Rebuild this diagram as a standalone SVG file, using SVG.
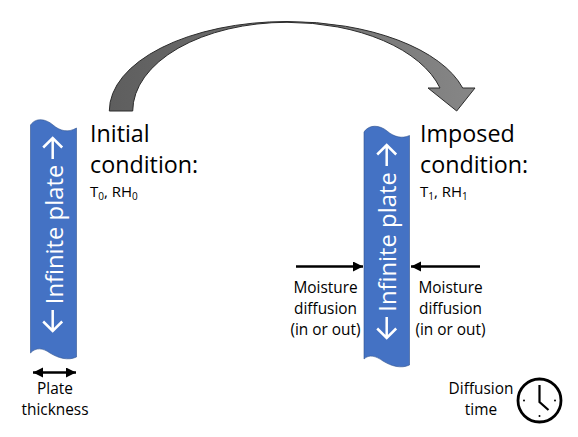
<svg xmlns="http://www.w3.org/2000/svg" width="578" height="437" viewBox="0 0 578 437">
<style>
text{font-family:"Open Sans","Noto Sans","DejaVu Sans",sans-serif;fill:#000}
.h{font-size:23.300px}
.s{font-size:15px}
.m{font-size:15.400px;text-anchor:middle}
.sub{font-size:10px}
.p{fill:#4472c4;stroke:#2f528f;stroke-width:.6}
.v{font-size:23.800px;fill:#fff;text-anchor:middle}
.w{fill:none;stroke:#fff;stroke-width:2.500}
.ln{stroke:#000;stroke-width:2.600;fill:none}
</style>
<defs>
<linearGradient id="g" x1="0" x2="1" y1="0" y2="0"><stop offset="0" stop-color="#5e5e5e"/><stop offset="1" stop-color="#868686"/></linearGradient>
<marker id="a" markerUnits="userSpaceOnUse" markerWidth="11" markerHeight="11" refX="10" refY="5" orient="auto-start-reverse"><path d="M0 0L10 5L0 10Z" fill="#000"/></marker>
<g id="updown"><path d="M0 0V-21M-9.500 -11.500L0 -21L9.500 -11.500"/><path d="M0 151V172M-9.500 162.500L0 172L9.500 162.500"/></g>
</defs>
<g id="connectors">
<path id="big-arrow" d="M109.300 111A178 89.500 0 0 1 287 21.500A181.800 89.500 0 0 1 462.700 88L475 88L456.700 111L428 88L440 88A158.400 89 0 0 0 287 22.300A154.300 89 0 0 0 132.700 111Z" fill="url(#g)" stroke="#2b2b2b" stroke-width="1"/>
<path class="ln" d="M296 266.500H363" marker-end="url(#a)"/>
<path class="ln" d="M480 266.500H411" marker-end="url(#a)"/>
<path class="ln" d="M33 372.500H76" marker-start="url(#a)" marker-end="url(#a)"/>
</g>
<g id="plate-1">
<path class="p" d="M30.500 125C36 117 46 119 53 125C60 131 68 133 76.500 128V357C68 361 58 358 50 353C43 348 36 347 30.500 353Z"/>
<use href="#updown" class="w" x="52.700" y="159"/>
<text class="v" transform="translate(62.700 234.500) rotate(-90)">Infinite plate</text>
</g>
<g id="plate-2">
<path class="p" d="M364 132C369 124 380 125 387 131C394 137 402 139 409.500 135.500V365C401 369 391 366 383 361C376 356 369 354 364 359Z"/>
<use href="#updown" class="w" x="386.700" y="166"/>
<text class="v" transform="translate(395.700 242) rotate(-90)">Infinite plate</text>
</g>
<g id="initial-label">
<text class="h" x="90" y="142">Initial</text>
<text class="h" x="90" y="173">condition:</text>
<text class="s" x="90" y="197">T<tspan class="sub" dy="3">0</tspan><tspan dy="-3">, RH</tspan><tspan class="sub" dy="3">0</tspan></text>
</g>
<g id="imposed-label">
<text class="h" x="420" y="142">Imposed</text>
<text class="h" x="420" y="173">condition:</text>
<text class="s" x="420" y="197">T<tspan class="sub" dy="3">1</tspan><tspan dy="-3">, RH</tspan><tspan class="sub" dy="3">1</tspan></text>
</g>
<g id="plate-thickness">
<text class="m" x="55" y="394">Plate</text>
<text class="m" x="55" y="415">thickness</text>
</g>
<g id="moisture-left">
<text class="m" x="325.500" y="293">Moisture</text>
<text class="m" x="325.500" y="314">diffusion</text>
<text class="m" x="325.500" y="335">(in or out)</text>
</g>
<g id="moisture-right">
<text class="m" x="450.500" y="293">Moisture</text>
<text class="m" x="450.500" y="314">diffusion</text>
<text class="m" x="450.500" y="335">(in or out)</text>
</g>
<g id="diffusion-time">
<text class="m" x="481" y="394">Diffusion</text>
<text class="m" x="481" y="415">time</text>
<circle cx="539.500" cy="400.500" r="21.500" fill="none" stroke="#000" stroke-width="2.800"/>
<path d="M539.500 385V402L548.500 410" fill="none" stroke="#000" stroke-width="2.200"/>
<circle cx="524" cy="400.500" r="1" fill="#000"/><circle cx="555" cy="400.500" r="1" fill="#000"/><circle cx="539.500" cy="416" r="1" fill="#000"/>
</g>
</svg>
